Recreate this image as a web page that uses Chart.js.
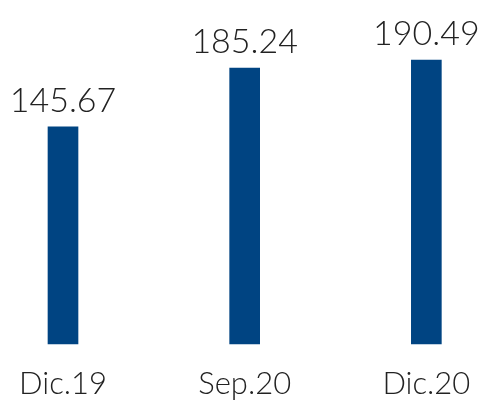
<!DOCTYPE html>
<html>
<head>
<meta charset="utf-8">
<script src="https://cdn.jsdelivr.net/npm/chart.js@4/dist/chart.umd.min.js"></script>
<style>
  html, body { margin: 0; padding: 0; background: #fff; }
  #wrap { width: 484px; height: 402px; }
</style>
</head>
<body>
<div id="wrap"><canvas id="chart"></canvas></div>
<script>
const categories = ["Dic.19", "Sep.20", "Dic.20"];
const values = [145.67, 185.24, 190.49];

// valores encima de cada barra
const valueLabels = {
    id: 'valueLabels',
    afterDatasetsDraw(chart) {
        const { ctx } = chart;
        const ds = chart.data.datasets[0];
        chart.getDatasetMeta(0).data.forEach((bar, i) => {
            ctx.save();
            ctx.fillStyle = "#222222";
            ctx.font = "300 34px Lato";
            ctx.textAlign = "center";
            ctx.textBaseline = "alphabetic";
            ctx.fillText(ds.data[i].toFixed(2), bar.x, bar.y - 15);
            ctx.restore();
        });
    }
};

new Chart(document.getElementById("chart"), {
    type: "bar",
    data: {
        labels: categories,
        datasets: [{
            data: values,
            backgroundColor: "#004482",
            barThickness: 30,
            clip: false
        }]
    },
    options: {
        responsive: true,
        maintainAspectRatio: false,
        animation: false,
        layout: { padding: { top: 46, left: 63, right: 57, bottom: -14.5 } },
        plugins: { legend: { display: false }, tooltip: { enabled: false } },
        scales: {
            x: {
                offset: false,
                grid: { display: false },
                border: { display: false },
                ticks: {
                    color: "#222222",
                    padding: 13.7,
                    maxRotation: 0,
                    autoSkip: false,
                    font: { family: "Lato", size: 31, weight: 300 }
                }
            },
            y: {
                display: false,
                min: 0,
                max: 200
            }
        }
    },
    plugins: [valueLabels]
});
</script>
</body>
</html>
